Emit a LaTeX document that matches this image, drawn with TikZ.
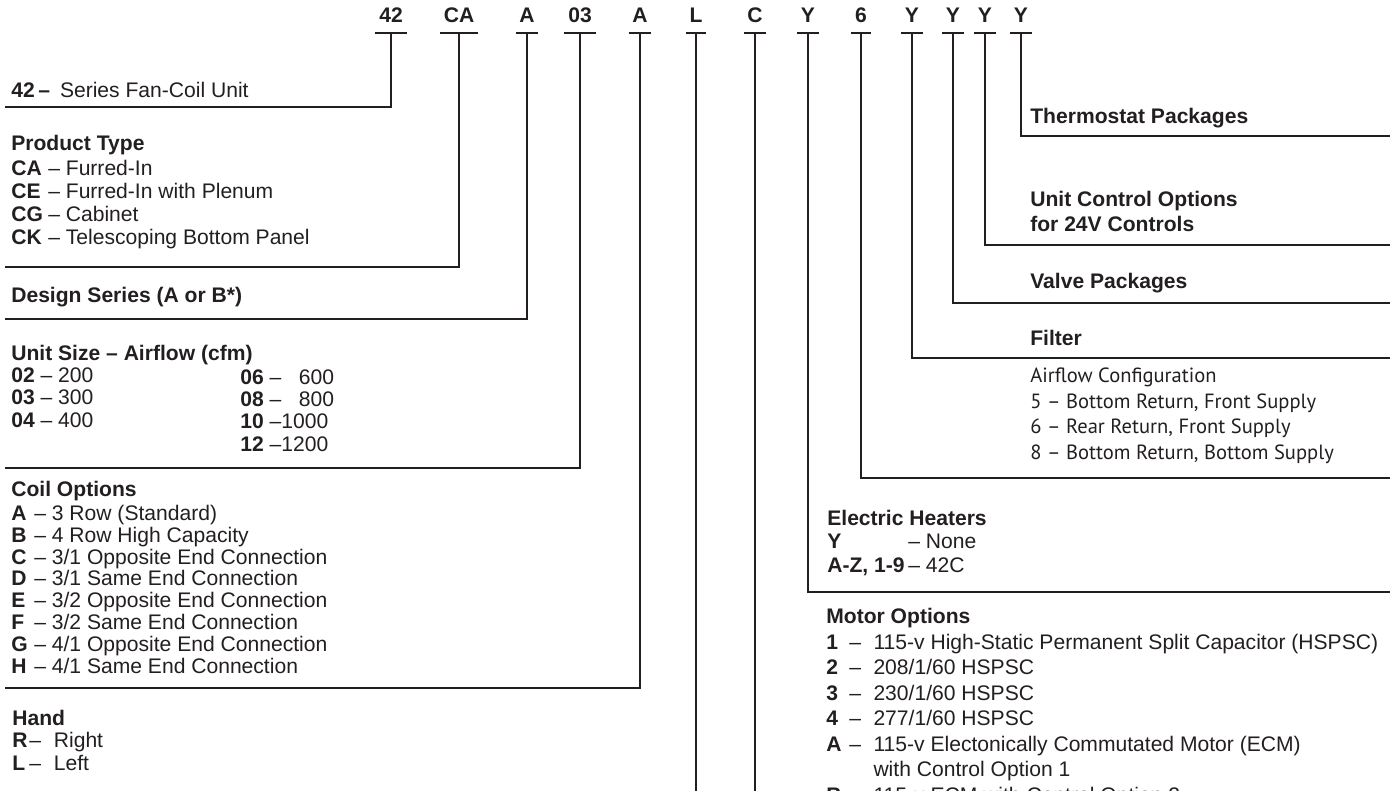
\documentclass[tikz,border=0pt,12pt]{standalone}
\usepackage{fontspec}
\setmainfont{Liberation Sans}
\newfontfamily\myriad{PT Sans}
\definecolor{ink}{RGB}{35,31,32}
\newcommand\opt[3]{\makebox[#1][l]{\bfseries #2}–\ #3}
\newcommand\mot[2]{\makebox[0.46cm][l]{\bfseries #1}\makebox[0.484cm][l]{–}#2}

\begin{document}
\begin{tikzpicture}[x=0.02cm, y=-0.02cm, color=ink, line width=1.5pt,
  code/.style={anchor=south, inner xsep=0.05cm, inner ysep=0pt,
    text depth=0.18cm, font=\bfseries},
  sec/.style={anchor=base west, inner sep=0pt, align=left,
    font=\fontsize{12}{#1}\selectfont},
  sec/.default=13,
  airtext/.style={sec, font=\myriad\fontsize{11.7}{14.5}\selectfont}]
  \useasboundingbox (0,0) rectangle (1390,791);
  \clip (0,0) rectangle (1390,791);
  % Kennbuchstaben oben
  \foreach \x/\t/\n in {391/42/series, 459/CA/type, 527/A/design, 580/03/size,
      640/A/coil, 696/L/hand, 755/C/motor, 808/Y/heat, 861/6/air,
      912/Y/filter, 953/Y/valve, 985/Y/ctrl, 1021/Y/stat}
    {\node[code] (\n) at (\x,33) {\t};
     \draw (\n.south west) -- (\n.south east);}
  % Enden der Linien
  \coordinate (series-end) at (5,107);
  \coordinate (type-end)   at (5,267);
  \coordinate (design-end) at (5,319);
  \coordinate (size-end)   at (5,468);
  \coordinate (coil-end)   at (5,688);
  \coordinate (hand-end)   at (696,800);
  \coordinate (motor-end)  at (755,800);
  \coordinate (heat-end)   at (1390,592);
  \coordinate (air-end)    at (1390,478);
  \coordinate (filter-end) at (1390,358);
  \coordinate (valve-end)  at (1390,303);
  \coordinate (ctrl-end)   at (1390,245);
  \coordinate (stat-end)   at (1390,136);
  \foreach \n in {series, type, design, size, coil, heat, air, filter, valve, ctrl, stat}
    \draw (\n.south) |- (\n-end);
  \draw (hand.south) -- (hand-end);
  \draw (motor.south) -- (motor-end);
  % linke Seite (Grundlinie der letzten Zeile)
  \node[sec] (d-series) at (10,97) {\textbf{42\,–}\hspace{0.2cm}Series Fan-Coil Unit};
  \node[sec=13] (d-type) at (10,244) {\textbf{Product Type}\\[1pt]
    \opt{0.74cm}{CA}{Furred-In}\\
    \opt{0.74cm}{CE}{Furred-In with Plenum}\\
    \opt{0.74cm}{CG}{Cabinet}\\
    \opt{0.74cm}{CK}{Telescoping Bottom Panel}};
  \node[sec] (d-design) at (10,302) {\textbf{Design Series (A or B*)}};
  \node[sec=12.7] (d-size) at (10,427) {\textbf{Unit Size – Airflow (cfm)}\\
    \textbf{02} – 200\\ \textbf{03} – 300\\ \textbf{04} – 400};
  \node[sec=12.7] (d-size2) at (239,451) {\textbf{06} – \hphantom{0}600\\
    \textbf{08} – \hphantom{0}800\\ \textbf{10} –1000\\ \textbf{12} –1200};
  \node[sec=12.4] (d-coil) at (10,673) {\textbf{Coil Options}\\[1pt]
    \opt{0.46cm}{A}{3 Row (Standard)}\\
    \opt{0.46cm}{B}{4 Row High Capacity}\\
    \opt{0.46cm}{C}{3/1 Opposite End Connection}\\
    \opt{0.46cm}{D}{3/1 Same End Connection}\\
    \opt{0.46cm}{E}{3/2 Opposite End Connection}\\
    \opt{0.46cm}{F}{3/2 Same End Connection}\\
    \opt{0.46cm}{G}{4/1 Opposite End Connection}\\
    \opt{0.46cm}{H}{4/1 Same End Connection}};
  \node[sec=12.8] (d-hand) at (11,770) {\textbf{Hand}\\
    \opt{0.34cm}{R}{\hspace{0.14cm}Right}\\
    \opt{0.34cm}{L}{\hspace{0.14cm}Left}};
  % rechte Seite
  \node[sec] (d-stat) at (1029,123) {\textbf{Thermostat Packages}};
  \node[sec=13.7] (d-ctrl) at (1029,231) {\textbf{Unit Control Options}\\
    \textbf{for 24V Controls}};
  \node[sec] (d-valve) at (1029,288) {\textbf{Valve Packages}};
  \node[sec] (d-filter) at (1029,345) {\textbf{Filter}};
  \node[airtext] (d-air) at (1029,459) {Airflow Configuration\\
    5 – Bottom Return, Front Supply\\
    6 – Rear Return, Front Supply\\
    8 – Bottom Return, Bottom Supply};
  \node[sec=13.3] (d-heat) at (826,572) {\textbf{Electric Heaters}\\
    \opt{1.62cm}{Y}{None}\\
    \opt{1.62cm}{A-Z, 1-9}{42C}};
  \node[sec=14.5] (d-motor) at (825,802) {\textbf{Motor Options}\\
    \mot{1}{115-v High-Static Permanent Split Capacitor (HSPSC)}\\
    \mot{2}{208/1/60 HSPSC}\\
    \mot{3}{230/1/60 HSPSC}\\
    \mot{4}{277/1/60 HSPSC}\\
    \mot{A}{115-v Electonically Commutated Motor (ECM)}\\
    \hspace*{0.944cm}with Control Option 1\\
    \mot{B}{115-v ECM with Control Option 2}};
\end{tikzpicture}
\end{document}
